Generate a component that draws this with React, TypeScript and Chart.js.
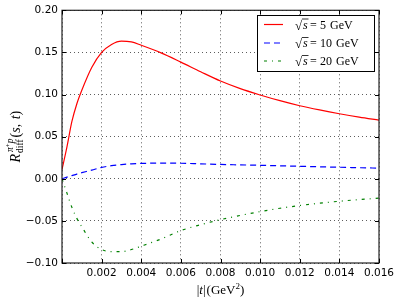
import React, { useEffect, useRef } from 'react';
import { Chart, registerables } from 'chart.js';

Chart.register(...registerables);

// |t| values (GeV^2)
const tValues = [0, 0.00025, 0.0005, 0.00075, 0.001, 0.0015, 0.002, 0.0025, 0.003, 0.0035, 0.004, 0.005, 0.006, 0.007, 0.008, 0.009, 0.010, 0.011, 0.012, 0.013, 0.014, 0.015, 0.016];
// sqrt(s) = 5 GeV
const series5 = [0.011, 0.038, 0.068, 0.089, 0.105, 0.132, 0.150, 0.1595, 0.1635, 0.1625, 0.1585, 0.1495, 0.1385, 0.127, 0.116, 0.107, 0.0995, 0.0927, 0.0867, 0.0817, 0.0772, 0.0732, 0.0697];
// sqrt(s) = 10 GeV
const series10 = [0, 0.002, 0.0038, 0.0056, 0.0072, 0.0102, 0.0135, 0.0155, 0.0168, 0.0177, 0.0182, 0.0186, 0.0184, 0.0177, 0.0170, 0.0165, 0.0160, 0.0154, 0.0148, 0.0142, 0.0137, 0.0131, 0.0126];
// sqrt(s) = 20 GeV
const series20 = [0, -0.017, -0.034, -0.047, -0.057, -0.075, -0.084, -0.0866, -0.0865, -0.084, -0.080, -0.0715, -0.0615, -0.0545, -0.0485, -0.0435, -0.0390, -0.0350, -0.0318, -0.0290, -0.0267, -0.0247, -0.0230];

const energies = ['5', '10', '20'];
const lineColors = ['#ff0000', '#0000ff', '#008000'];
const lineDashes: number[][] = [[], [6, 4], [3, 5, 1, 5]];

const xMin = 0;
const xMax = 0.016;
const xStep = 0.002;
const yMin = -0.1;
const yMax = 0.2;
const yStep = 0.05;

const SERIF = '"Liberation Serif", "DejaVu Serif", serif';

function pts(ys: number[]) {
  return tValues.map((t, i) => ({ x: t, y: ys[i] }));
}

type Seg = { text: string; font: string; dy?: number; gap?: number };

function segWidth(ctx: CanvasRenderingContext2D, segs: Seg[]) {
  let w = 0;
  for (const s of segs) {
    ctx.font = s.font;
    w += ctx.measureText(s.text).width + (s.gap || 0);
  }
  return w;
}

function drawSegs(ctx: CanvasRenderingContext2D, segs: Seg[], x: number, y: number) {
  let cx = x;
  for (const s of segs) {
    ctx.font = s.font;
    ctx.fillText(s.text, cx, y + (s.dy || 0));
    cx += ctx.measureText(s.text).width + (s.gap || 0);
  }
  return cx;
}

const decorPlugin = {
  id: 'decor',
  afterDraw(chart: any) {
    const ctx: CanvasRenderingContext2D = chart.ctx;
    const { left, right, top, bottom } = chart.chartArea;
    const xs = chart.scales.x;
    const ys = chart.scales.y;
    ctx.save();
    // frame
    ctx.strokeStyle = '#222';
    ctx.lineWidth = 1.2;
    ctx.setLineDash([]);
    ctx.strokeRect(left, top, right - left, bottom - top);
    // inward ticks
    ctx.lineWidth = 1;
    ctx.strokeStyle = '#000';
    ctx.beginPath();
    for (const tk of xs.ticks) {
      const px = Math.round(xs.getPixelForValue(tk.value)) + 0.5;
      ctx.moveTo(px, bottom);
      ctx.lineTo(px, bottom - 4);
      ctx.moveTo(px, top);
      ctx.lineTo(px, top + 4);
    }
    for (const tk of ys.ticks) {
      const py = Math.round(ys.getPixelForValue(tk.value)) + 0.5;
      ctx.moveTo(left, py);
      ctx.lineTo(left + 4, py);
      ctx.moveTo(right, py);
      ctx.lineTo(right - 4, py);
    }
    ctx.stroke();

    // legend
    const bx = 257, by = 15, bw = 117, bh = 56;
    ctx.fillStyle = '#fff';
    ctx.fillRect(bx, by, bw, bh);
    ctx.strokeStyle = '#000';
    ctx.lineWidth = 1;
    ctx.strokeRect(bx + 0.5, by + 0.5, bw, bh);
    const rowY = [24.5, 43, 61];
    chart.data.datasets.forEach((ds: any, i: number) => {
      const y = rowY[i];
      ctx.strokeStyle = lineColors[i];
      ctx.lineWidth = 1.2;
      ctx.setLineDash(lineDashes[i]);
      ctx.beginPath();
      ctx.moveTo(264, y);
      ctx.lineTo(283, y);
      ctx.stroke();
      ctx.setLineDash([]);
      ctx.fillStyle = '#000';
      ctx.textBaseline = 'alphabetic';
      ctx.textAlign = 'left';
      const base = y + 4;
      ctx.font = '13px ' + SERIF;
      ctx.fillText('\u221A', 295, base + 1);
      ctx.font = 'italic 12px ' + SERIF;
      ctx.fillText('s', 303, base);
      ctx.lineWidth = 0.8;
      ctx.strokeStyle = '#000';
      ctx.beginPath();
      ctx.moveTo(302, base - 9.5);
      ctx.lineTo(308.5, base - 9.5);
      ctx.stroke();
      ctx.font = '12px ' + SERIF;
      ctx.fillText('=', 310, base);
      ctx.fillText(energies[i], 320, base);
      const w = ctx.measureText(energies[i]).width;
      ctx.fillText('GeV', 320 + w + 4, base);
    });

    // x title: |t|(GeV^2)
    ctx.fillStyle = '#000';
    ctx.textAlign = 'left';
    ctx.textBaseline = 'alphabetic';
    const xt: Seg[] = [
      { text: '|', font: '13px ' + SERIF },
      { text: 't', font: 'italic 13px ' + SERIF },
      { text: '|', font: '13px ' + SERIF, gap: 1 },
      { text: '(GeV', font: '13px ' + SERIF },
      { text: '2', font: '9px ' + SERIF, dy: -5.5 },
      { text: ')', font: '13px ' + SERIF },
    ];
    const xw = segWidth(ctx, xt);
    drawSegs(ctx, xt, (left + right) / 2 - xw / 2, 294);

    // y title: R_diff^{pi+ p}(s,t)
    ctx.save();
    ctx.translate(19.5, (top + bottom) / 2);
    ctx.rotate(-Math.PI / 2);
    ctx.font = 'italic 14px ' + SERIF;
    const rW = ctx.measureText('R').width;
    const supSegs: Seg[] = [
      { text: '\u03C0', font: 'italic 9.5px ' + SERIF },
      { text: '+', font: '7px ' + SERIF, dy: -3 },
      { text: 'p', font: 'italic 9.5px ' + SERIF },
    ];
    const subSegs: Seg[] = [{ text: 'diff', font: '9.5px ' + SERIF }];
    const tailSegs: Seg[] = [
      { text: '(', font: '14px ' + SERIF },
      { text: 's', font: 'italic 14px ' + SERIF },
      { text: ', ', font: '14px ' + SERIF, gap: 1 },
      { text: 't', font: 'italic 14px ' + SERIF },
      { text: ')', font: '14px ' + SERIF },
    ];
    const supW = segWidth(ctx, supSegs);
    const subW = segWidth(ctx, subSegs);
    const stackW = Math.max(supW, subW) + 2;
    const tailW = segWidth(ctx, tailSegs);
    const total = rW + 1 + stackW + tailW;
    let cx = -total / 2;
    ctx.font = 'italic 14px ' + SERIF;
    ctx.fillText('R', cx, 0);
    cx += rW + 1;
    drawSegs(ctx, supSegs, cx + 1, -7);
    drawSegs(ctx, subSegs, cx, 3);
    cx += stackW;
    drawSegs(ctx, tailSegs, cx, 0);
    ctx.restore();

    ctx.restore();
  },
};

export default function App() {
  const ref = useRef<HTMLCanvasElement | null>(null);
  useEffect(() => {
    if (!ref.current) return;
    const mk = (ys: number[], i: number) => ({
      label: '\u221As = ' + energies[i] + ' GeV',
      data: pts(ys),
      borderColor: lineColors[i],
      backgroundColor: lineColors[i],
      borderWidth: 1.2,
      borderDash: lineDashes[i],
      pointRadius: 0,
      fill: false,
      tension: 0.4,
      cubicInterpolationMode: 'monotone' as const,
    });
    const tickFont = { family: '"DejaVu Sans", sans-serif', size: 10.5 };
    const chart = new Chart(ref.current, {
      type: 'line',
      data: {
        datasets: [mk(series5, 0), mk(series10, 1), mk(series20, 2)],
      },
      plugins: [decorPlugin],
      options: {
        animation: false,
        responsive: false,
        devicePixelRatio: 1,
        layout: { padding: { left: 0, right: 20, top: 9, bottom: 0 } },
        plugins: { legend: { display: false }, tooltip: { enabled: false } },
        scales: {
          x: {
            type: 'linear',
            min: xMin,
            max: xMax,
            afterFit: (s: any) => { s.height = 36; },
            ticks: {
              stepSize: xStep,
              color: '#000',
              font: tickFont,
              padding: 4,
              maxRotation: 0,
              callback: (v: any) => (Math.abs(v) < 1e-9 ? '' : Number(v).toFixed(3)),
            },
            grid: { color: '#333', lineWidth: 0.8, drawTicks: false },
            border: { display: false, dash: [1, 3] },
          },
          y: {
            type: 'linear',
            min: yMin,
            max: yMax,
            afterFit: (s: any) => { s.width = 62; },
            ticks: {
              stepSize: yStep,
              color: '#000',
              font: tickFont,
              padding: 4,
              callback: (v: any) => {
                const n = Number(v);
                if (Math.abs(n) < 1e-9) return '0.00';
                return (n < 0 ? '\u2212' : '') + Math.abs(n).toFixed(2);
              },
            },
            grid: { color: '#333', lineWidth: 0.8, drawTicks: false },
            border: { display: false, dash: [1, 3] },
          },
        },
      },
    });
    return () => chart.destroy();
  }, []);
  return (
    <div style={{ position: 'fixed', left: 0, top: 0, width: 399, height: 299, background: '#fff' }}>
      <canvas ref={ref} width={399} height={299} style={{ display: 'block', width: 399, height: 299 }} />
    </div>
  );
}
